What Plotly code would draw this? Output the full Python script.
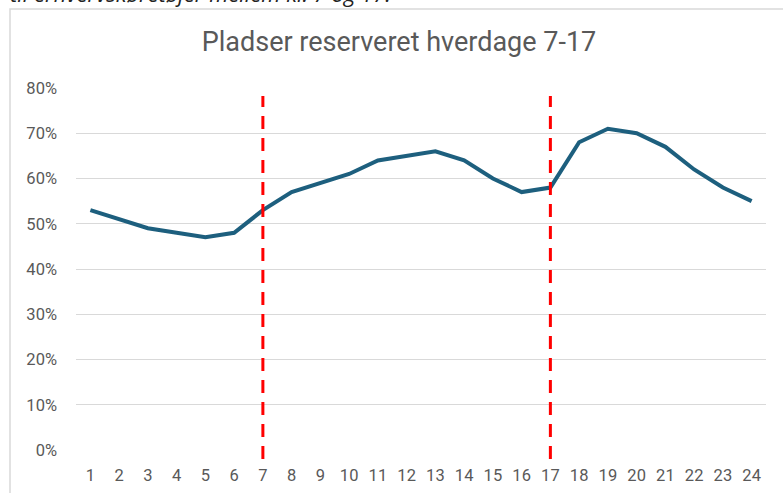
import plotly.graph_objects as go

hours = list(range(1, 25))
reserved = [0.53, 0.51, 0.49, 0.48, 0.47, 0.48, 0.53, 0.57, 0.59, 0.61, 0.64, 0.65,
            0.66, 0.64, 0.60, 0.57, 0.58, 0.68, 0.71, 0.70, 0.67, 0.62, 0.58, 0.55]
marker_hours = [7, 17]
y_ticks = [0, 0.1, 0.2, 0.3, 0.4, 0.5, 0.6, 0.7, 0.8]
title_text = "Pladser reserveret hverdage 7-17"
top_text = "til erhvervskøretøjer mellem kl. 7 og 17."

W, H = 783, 493
ML, MR, MT, MB = 76, 17, 88, 43
pw, ph = W - ML - MR, H - MT - MB

def px_to_paper_x(px):
    return (px - ML) / pw

def px_to_paper_y(py):
    return (H - MB - py) / ph

fig = go.Figure()
fig.add_trace(go.Scatter(
    x=hours, y=reserved, mode="lines",
    line=dict(color="#1D5F7E", width=4), showlegend=False,
    hoverinfo="skip"))

shapes = []
for h in marker_hours:
    shapes.append(dict(type="line", xref="x", yref="paper",
                       x0=h, x1=h, y0=px_to_paper_y(459), y1=px_to_paper_y(96),
                       line=dict(color="#FF0000", width=3, dash="13px,9px"),
                       layer="above"))
# chart frame
shapes.append(dict(type="rect", xref="paper", yref="paper",
                   x0=px_to_paper_x(10), x1=px_to_paper_x(800),
                   y0=px_to_paper_y(520), y1=px_to_paper_y(9),
                   line=dict(color="#D9D9D9", width=1.5), fillcolor="rgba(0,0,0,0)",
                   layer="below"))

fig.update_layout(
    width=W, height=H,
    margin=dict(l=ML, r=MR, t=MT, b=MB, autoexpand=False),
    paper_bgcolor="white", plot_bgcolor="white",
    font=dict(family="Roboto, Open Sans, sans-serif", color="#595959"),
    title=dict(text=title_text, x=399 / W, xanchor="center", xref="container",
               y=1 - 42 / H, yanchor="middle", yref="container",
               font=dict(size=27, color="#595959"), automargin=False),
    shapes=shapes,
    annotations=[dict(text=top_text, xref="paper", yref="paper",
                      x=px_to_paper_x(8), y=px_to_paper_y(10),
                      xanchor="left", yanchor="bottom", showarrow=False,
                      font=dict(size=22, color="#222222",
                                family="Open Sans, sans-serif", style="italic"))],
    xaxis=dict(range=[0.5, 24.5], tickmode="array", tickvals=hours,
               ticktext=[str(h) for h in hours], showgrid=False, zeroline=False,
               showline=False, ticks="", tickfont=dict(size=16.5, color="#595959"),
               ticklabelstandoff=13, fixedrange=True, automargin=False),
    yaxis=dict(range=[0, 0.8], tickmode="array", tickvals=y_ticks,
               ticktext=[f"{int(round(v*100))}%" for v in y_ticks],
               showgrid=True, gridcolor="#D9D9D9", gridwidth=1.3,
               zeroline=False, showline=False, ticks="",
               tickfont=dict(size=16.5, color="#595959"),
               ticklabelstandoff=18, fixedrange=True, automargin=False),
)

fig.write_html("out.html", config={"displayModeBar": False},
               post_script="document.body.style.margin='0';document.body.style.overflow='hidden';")
